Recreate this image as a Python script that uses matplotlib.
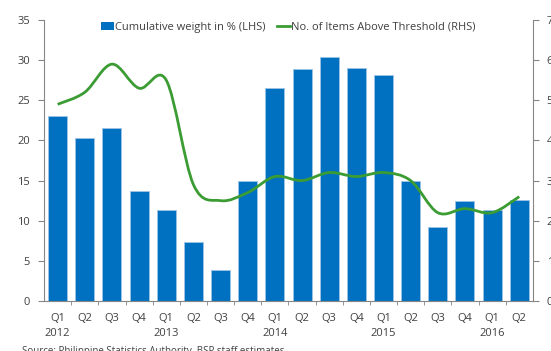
import numpy as np
import matplotlib.pyplot as plt
from matplotlib.path import Path
from matplotlib.patches import PathPatch, Patch
from matplotlib.lines import Line2D

plt.rcParams['font.family'] = ['Open Sans', 'DejaVu Sans']

quarters = ['Q1', 'Q2', 'Q3', 'Q4', 'Q1', 'Q2', 'Q3', 'Q4', 'Q1',
            'Q2', 'Q3', 'Q4', 'Q1', 'Q2', 'Q3', 'Q4', 'Q1', 'Q2']
years = ['2012', '', '', '', '2013', '', '', '', '2014',
         '', '', '', '2015', '', '', '', '2016', '']
weight = [23.0, 20.3, 21.5, 13.7, 11.3, 7.4, 3.8, 15.0, 26.5,
          28.9, 30.4, 29.0, 28.1, 14.9, 9.2, 12.4, 11.3, 12.6]
items = [49, 52, 59, 53, 55, 29, 25, 27, 31,
         30, 32, 31, 32, 30, 22, 23, 22, 26]

bar_col = '#0070C0'
line_col = '#3C9C34'
txt_col = '#404040'
ax_col = '#868686'

fig = plt.figure(figsize=(5.51, 3.51), dpi=100)
ax = fig.add_axes([0.08, 0.1425, 0.887, 0.8005])
x = np.arange(len(weight))
ax.bar(x, weight, width=0.7, color=bar_col, edgecolor='#9DC3E6', linewidth=0.6, zorder=2)
ax.set_xlim(-0.5, len(weight) - 0.5)
ax.set_ylim(0, 35)
ax.set_yticks(range(0, 36, 5))

ax.set_xticks(x)
ax.set_xticklabels([q + '\n' + y for q, y in zip(quarters, years)], fontsize=8, color=txt_col,
                   linespacing=1.5)
ax.set_xticks(np.arange(0.5, len(weight) - 1, 1), minor=True)
ax.tick_params(axis='x', which='major', length=0, pad=9)
ax.tick_params(axis='x', which='minor', length=3, color=ax_col, direction='out')
ax.tick_params(axis='y', length=4, color=ax_col, labelsize=8, labelcolor=txt_col, pad=6)
for s in ['top', 'right']:
    ax.spines[s].set_visible(False)
for s in ['left', 'bottom']:
    ax.spines[s].set_color(ax_col)

ax2 = ax.twinx()
ax2.set_ylim(0, 70)
ax2.set_yticks(range(0, 71, 10))
ax2.tick_params(axis='y', length=4, color=ax_col, labelsize=8, labelcolor=txt_col, pad=6)
for s in ['top', 'left', 'bottom']:
    ax2.spines[s].set_visible(False)
ax2.spines['right'].set_color(ax_col)

# smoothed line: cubic bezier segments through the quarterly points
pts = np.column_stack([x, items]).astype(float)
verts = [pts[0]]
codes = [Path.MOVETO]
t = 1 / 6
for i in range(len(pts) - 1):
    p0 = pts[max(i - 1, 0)]
    p1 = pts[i]
    p2 = pts[i + 1]
    p3 = pts[min(i + 2, len(pts) - 1)]
    c1 = p1 + (p2 - p0) * t
    c2 = p2 - (p3 - p1) * t
    verts += [c1, c2, p2]
    codes += [Path.CURVE4] * 3
ax2.add_patch(PathPatch(Path(verts, codes), facecolor='none', edgecolor=line_col, lw=2, zorder=3))

handles = [Patch(facecolor=bar_col, label='Cumulative weight in % (LHS)'),
           Line2D([], [], color=line_col, lw=2, label='No. of Items Above Threshold (RHS)')]
ax2.legend(handles=handles, loc='center', bbox_to_anchor=(0.5, 0.975), ncol=2, frameon=False,
           fontsize=8, handlelength=1.2, handletextpad=0.1, columnspacing=1.0, labelcolor=txt_col)

fig.text(22 / 551, 0.013, 'Source: Philippine Statistics Authority, BSP staff estimates',
         fontsize=7, color=txt_col, va='top')

plt.savefig('out.png', dpi=100)
